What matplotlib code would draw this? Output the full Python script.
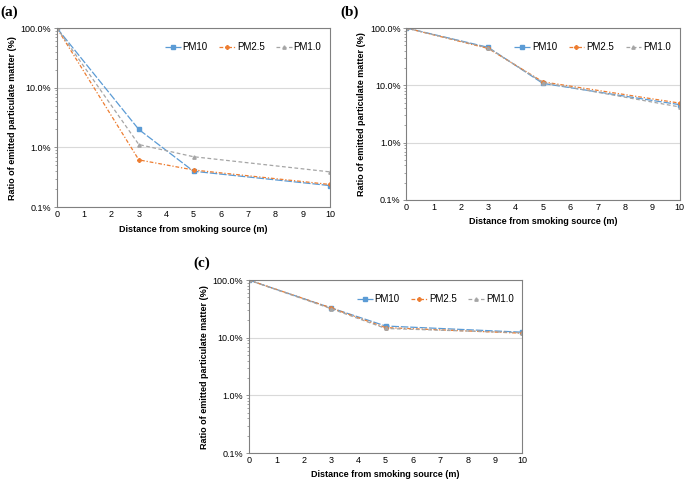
import matplotlib
matplotlib.use("Agg")
import matplotlib.pyplot as plt
from matplotlib.ticker import FuncFormatter, LogLocator, NullFormatter

plt.rcParams['font.family'] = ['Liberation Sans', 'DejaVu Sans']

distance = [0, 3, 5, 10]
series_names = ["PM10", "PM2.5", "PM1.0"]

# ratio of emitted particulate matter (%)
a_pm10 = [100, 2.0, 0.40, 0.23]
a_pm25 = [100, 0.62, 0.42, 0.24]
a_pm1 = [100, 1.12, 0.70, 0.39]

b_pm10 = [100, 46, 10.8, 4.6]
b_pm25 = [100, 44, 11.5, 4.9]
b_pm1 = [100, 45, 11.2, 4.2]

c_pm10 = [100, 33, 16.0, 12.5]
c_pm25 = [100, 33, 15.0, 12.0]
c_pm1 = [100, 32, 14.5, 12.2]

colors = ['#5B9BD5', '#ED7D31', '#A5A5A5']
styles = [dict(ls=(0, (6, 1.5)), marker='s', ms=2.2),
          dict(ls=(0, (3, 1.5, 1, 1.5)), marker='P', ms=2.6),
          dict(ls=(0, (3, 2)), marker='^', ms=2.4)]

fig = plt.figure(figsize=(6.85, 4.83), dpi=100)

panels = [
    ("(a)", [0.083, 0.571, 0.399, 0.371], [a_pm10, a_pm25, a_pm1], (0.0, 0.975)),
    ("(b)", [0.593, 0.586, 0.399, 0.356], [b_pm10, b_pm25, b_pm1], (0.497, 0.975)),
    ("(c)", [0.3635, 0.062, 0.399, 0.358], [c_pm10, c_pm25, c_pm1], (0.283, 0.455)),
]

fmt = FuncFormatter(lambda v, p: "{:.1f}%".format(v))

for tag, rect, data, tagpos in panels:
    ax = fig.add_axes(rect)
    for vals, name, c, st in zip(data, series_names, colors, styles):
        ax.plot(distance, vals, color=c, lw=0.9, label=name, **st)
    ax.set_yscale('log')
    ax.set_ylim(0.1, 100)
    ax.set_xlim(0, 10)
    ax.set_xticks(range(0, 11))
    ax.yaxis.set_major_formatter(fmt)
    ax.yaxis.set_minor_locator(LogLocator(base=10, subs=range(2, 10)))
    ax.yaxis.set_minor_formatter(NullFormatter())
    ax.grid(axis='y', which='major', color='#D9D9D9', lw=0.8)
    ax.tick_params(labelsize=6.5, length=2, width=0.6, color='#808080', pad=2)
    ax.tick_params(axis='y', which='minor', length=1.5, width=0.5, color='#808080')
    ax.tick_params(axis='x', length=0)
    for s in ax.spines.values():
        s.set_color('#808080')
        s.set_linewidth(0.8)
    ax.set_ylabel("Ratio of emitted particulate matter (%)", fontsize=6.5, fontweight='bold', labelpad=3)
    ax.set_xlabel("Distance from smoking source (m)", fontsize=6.5, fontweight='bold', labelpad=4)
    ax.legend(loc='upper right', ncol=3, frameon=False, fontsize=7, handlelength=1.6,
              handletextpad=0.2, columnspacing=1.2, bbox_to_anchor=(1.0, 0.97))
    fig.text(tagpos[0], tagpos[1], tag, fontsize=11, fontweight='bold',
             family='Liberation Serif', va='center')

fig.savefig("out.png", dpi=100)
